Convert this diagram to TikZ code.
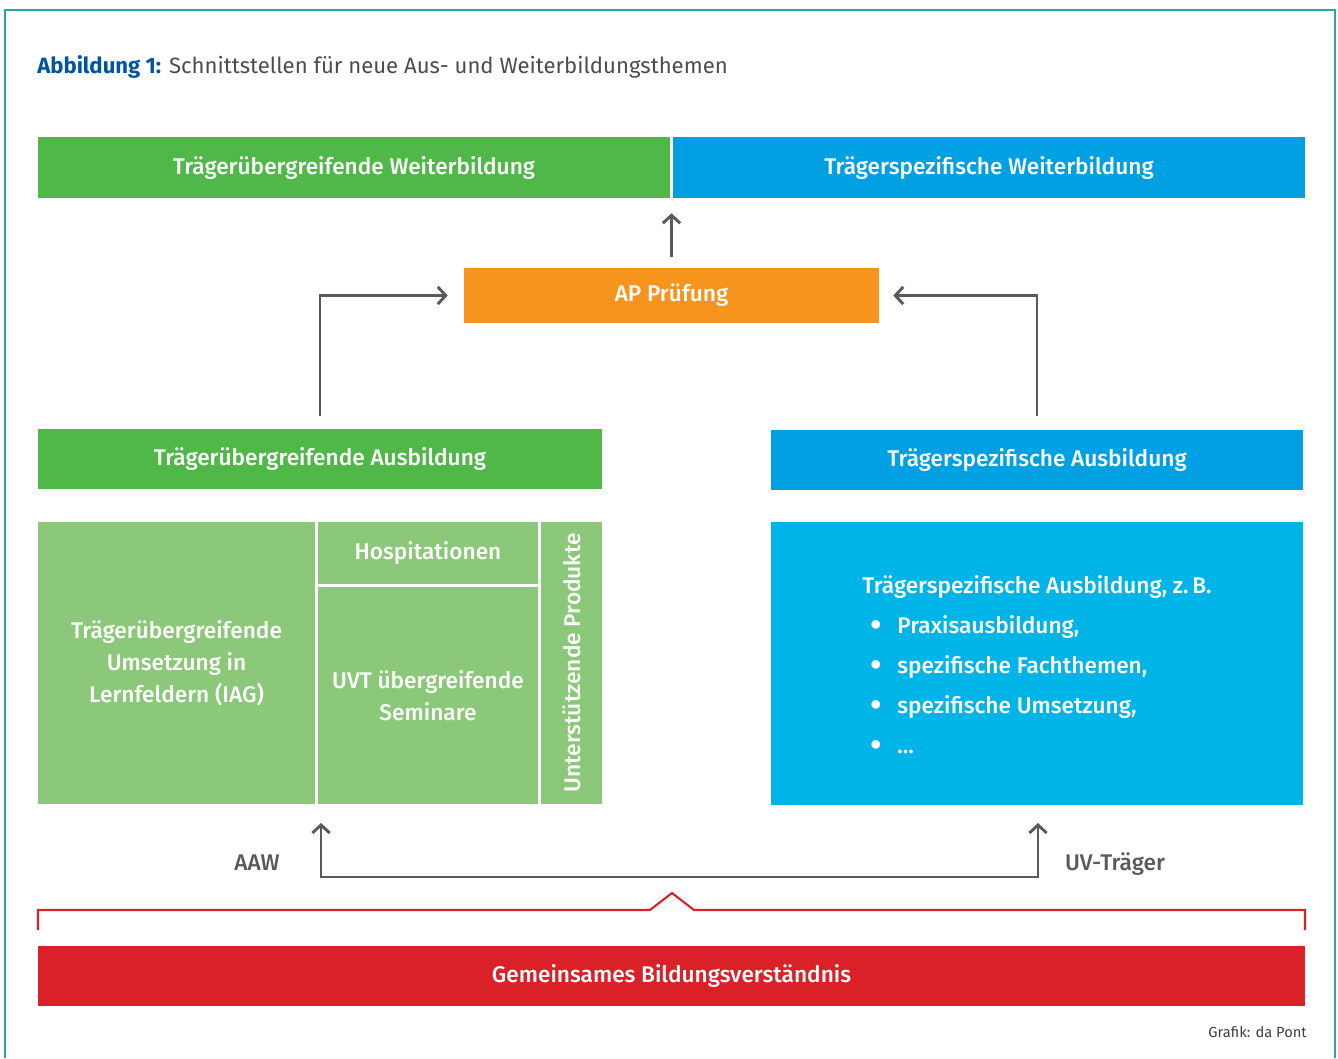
\documentclass[tikz,border=0pt]{standalone}
\usepackage{fontspec}
\setmainfont{Fira Sans}
\newfontfamily\medium{Fira Sans Medium}
\usetikzlibrary{positioning,arrows.meta}
\definecolor{tgreen}{HTML}{50B848}
\definecolor{tblue}{HTML}{00A0E3}
\definecolor{lgreen}{HTML}{8CC87A}
\definecolor{cyanbox}{HTML}{00B4E8}
\definecolor{orange}{HTML}{F7941E}
\definecolor{bred}{HTML}{DA2128}
\definecolor{arrowgray}{HTML}{5A5A5A}
\definecolor{titleblue}{HTML}{0055A0}
\definecolor{frame}{HTML}{2AA8A0}
\newcommand{\bulletitem}{\hspace*{6pt}\makebox[20.25pt][l]{\raisebox{-0.22ex}{\scalebox{1.5}{\textbullet}}}}

\begin{document}
\begin{tikzpicture}[x=0.75pt, y=-0.75pt,
    wh/.style 2 args={minimum width=#1*0.75pt, minimum height=#2*0.75pt},
    bar/.style={inner sep=0pt, text=white, font=\medium\fontsize{17}{20}\selectfont},
    cell/.style={bar, fill=lgreen, align=center, font=\medium\fontsize{17}{24}\selectfont},
    conn/.style={draw=arrowgray, line width=2.2pt, -{Straight Barb[length=6pt, width=13pt]}},
    lbl/.style={text=arrowgray, font=\medium\fontsize{17}{20}\selectfont, anchor=base}]
  \useasboundingbox (0,0) rectangle (1338,1058);
  \draw[frame, line width=1.6pt] (5,1058) |- (1335,10) -- (1335,1058);
  \node[anchor=base west, inner sep=0pt, font=\fontsize{16.6}{19}\selectfont, text=black!70] (title) at (37,73)
    {\textcolor{titleblue}{\bfseries Abbildung 1:} Schnittstellen für neue Aus- und Weiterbildungsthemen};

  \node[bar, fill=tgreen, wh={632}{61}] (tw) at (354,167.5) {Trägerübergreifende Weiterbildung};
  \node[bar, fill=tblue, wh={632}{61}] (sw) at (989,167.5) {Trägerspezifische Weiterbildung};
  \node[bar, fill=orange, wh={415}{55}] (ap) at (671.5,295.5) {AP Prüfung};
  \node[bar, fill=tgreen, wh={564}{60}] (ta) at (320,459) {Trägerübergreifende Ausbildung};
  \node[bar, fill=tblue, wh={532}{60}] (ts) at (1037,459.5) {Trägerspezifische Ausbildung};

  \node[cell, wh={277}{282}] (lf) at (176.5,663) {Trägerübergreifende\\Umsetzung in\\Lernfeldern (IAG)};
  \node[cell, wh={220}{62}] (hosp) at (428,553) {Hospitationen};
  \node[cell, wh={220}{217}] (uvt) at (428,695.5) {UVT übergreifende\\Seminare};
  \node[cell, wh={282}{61}, rotate=90] (up) at (571.5,663) {Unterstützende Produkte};
  \node[bar, fill=cyanbox, wh={532}{283}] (sp) at (1037,663.5) {};
  \node[bar, align=left, font=\medium\fontsize{17}{30}\selectfont] (splist) at (1037,666)
    {Trägerspezifische Ausbildung, z.\,B.\\\bulletitem Praxisausbildung,\\\bulletitem spezifische Fachthemen,\\\bulletitem spezifische Umsetzung,\\\bulletitem \dots};

  \node[bar, fill=bred, wh={1267}{60}] (gb) at (671.5,976) {Gemeinsames Bildungsverständnis};

  \draw[conn, shorten <=11*0.75pt, shorten >=15*0.75pt] (ap.north) -- (ap.north |- tw.south);
  \draw[conn, shorten <=13*0.75pt, shorten >=16*0.75pt] (ta.north) |- (ap.west);
  \draw[conn, shorten <=13*0.75pt, shorten >=14*0.75pt] (ts.north) |- (ap.east);

  \coordinate (lin) at (321,823);
  \coordinate (rin) at (1038,823);
  \coordinate (hub) at (672,877);
  \draw[conn, {Straight Barb[length=6pt, width=13pt]}-{Straight Barb[length=6pt, width=13pt]}] (lin) |- (hub) -| (rin);
  \node[lbl] (aaw) at (257,870) {AAW};
  \node[lbl] (uvtr) at (1115,870) {UV-Träger};

  \draw[bred, line width=1.6pt] (38,930) |- (650,910) -- (672,893) -- (694,910) -| (1305,930);

  \node[anchor=base east, inner sep=0pt, text=black!75, font=\fontsize{11}{13}\selectfont] (credit) at (1307,1037) {Grafik: da Pont};
\end{tikzpicture}
\end{document}
